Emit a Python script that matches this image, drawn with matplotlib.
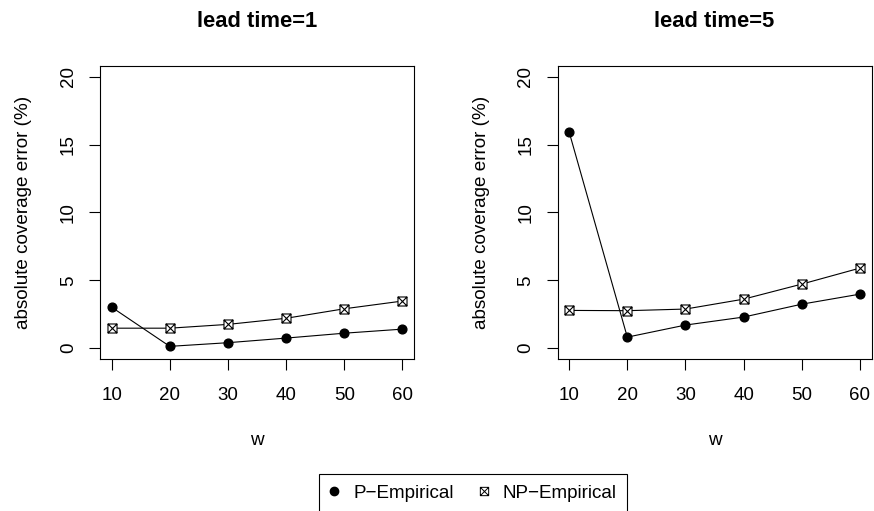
import matplotlib
matplotlib.use('Agg')
import matplotlib.pyplot as plt
from matplotlib.path import Path
from matplotlib.lines import Line2D

plt.rcParams.update({
    'font.family': ['Liberation Sans', 'DejaVu Sans'],
    'font.size': 13.6,
    'axes.linewidth': 0.8,
    'xtick.major.width': 0.8,
    'ytick.major.width': 0.8,
})

# data
w = [10, 20, 30, 40, 50, 60]
p_lead1 = [3.02, 0.13, 0.40, 0.74, 1.10, 1.40]
np_lead1 = [1.47, 1.47, 1.75, 2.20, 2.90, 3.47]
p_lead5 = [15.93, 0.81, 1.70, 2.29, 3.24, 3.98]
np_lead5 = [2.78, 2.76, 2.88, 3.61, 4.72, 5.90]
titles = ['lead time=1', 'lead time=5']
yticks = [0, 5, 10, 15, 20]
labels = ['P\u2212Empirical', 'NP\u2212Empirical']

# R pch=7: square with a cross
boxx = Path([(-1, -1), (1, -1), (1, 1), (-1, 1), (-1, -1),
             (-1, -1), (1, 1), (-1, 1), (1, -1)],
            [Path.MOVETO, Path.LINETO, Path.LINETO, Path.LINETO, Path.CLOSEPOLY,
             Path.MOVETO, Path.LINETO, Path.MOVETO, Path.LINETO])

fig = plt.figure(figsize=(8.74, 5.11), dpi=100)
axes = [fig.add_axes([0.1144, 0.2975, 0.3593, 0.5734]),
        fig.add_axes([0.6379, 0.2975, 0.3593, 0.5734])]

for ax, title, p, npv in zip(axes, titles, [p_lead1, p_lead5], [np_lead1, np_lead5]):
    ax.plot(w, p, color='black', lw=0.8, marker='o', ms=6.3, mfc='black', mec='black')
    ax.plot(w, npv, color='black', lw=0.8, marker=boxx, ms=6.5, mfc='white', mec='black', mew=0.8)
    ax.set_xlim(8, 62)
    ax.set_ylim(-0.8, 20.8)
    ax.set_xticks(w)
    ax.set_yticks(yticks)
    ax.tick_params(direction='out', length=8, labelsize=13.5)
    ax.tick_params(axis='x', pad=12)
    ax.tick_params(axis='y', pad=8.6, labelrotation=90)
    for lab in ax.get_yticklabels():
        lab.set_va('center')
    ax.set_xlabel('w', fontsize=13.6)
    ax.xaxis.set_label_coords(0.5, -0.2935)
    ax.xaxis.label.set_va('baseline')
    ax.set_ylabel('absolute coverage error (%)', fontsize=13.6)
    ax.yaxis.set_label_coords(-0.242, 0.5)
    ax.yaxis.label.set_va('center')
    ax.yaxis.label.set_ha('center')
    ax.text(0.5, 1.133, title, transform=ax.transAxes, ha='center', va='baseline',
            fontsize=15.8, fontweight='bold')

handles = [Line2D([], [], ls='none', marker='o', ms=6, color='black'),
           Line2D([], [], ls='none', marker=boxx, ms=6, mfc='white', mec='black', mew=0.7)]
leg = fig.legend(handles, labels, ncol=2,
                 loc='center', bbox_to_anchor=(0.5412, 0.0352), fontsize=13.6,
                 fancybox=False, edgecolor='black', framealpha=1,
                 handlelength=0.53, handletextpad=0.74, columnspacing=1.33,
                 borderpad=0.55, borderaxespad=0)
leg.get_frame().set_linewidth(0.8)

fig.savefig('out.png', dpi=100)
